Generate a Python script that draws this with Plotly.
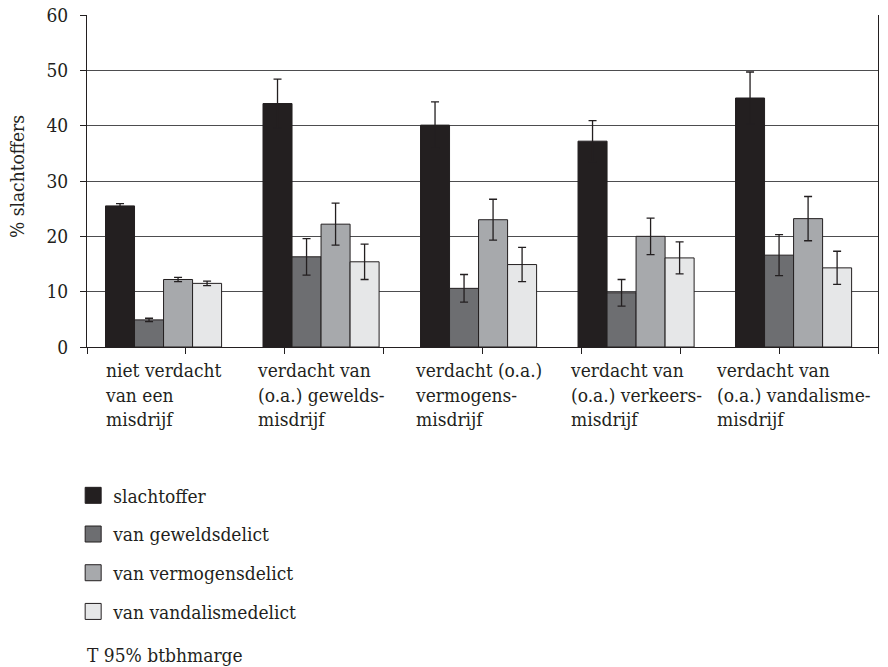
import plotly.graph_objects as go

categories = [
    "niet verdacht<br>van een<br>misdrijf",
    "verdacht van<br>(o.a.) gewelds-<br>misdrijf",
    "verdacht (o.a.)<br>vermogens-<br>misdrijf",
    "verdacht van<br>(o.a.) verkeers-<br>misdrijf",
    "verdacht van<br>(o.a.) vandalisme-<br>misdrijf",
]
series_names = ["slachtoffer", "van geweldsdelict", "van vermogensdelict", "van vandalismedelict"]
slachtoffer = [25.5, 44.0, 40.1, 37.2, 45.0]
slachtoffer_err = [0.4, 4.4, 4.2, 3.7, 4.7]
geweld = [4.9, 16.3, 10.6, 9.8, 16.6]
geweld_err = [0.3, 3.3, 2.5, 2.4, 3.7]
vermogen = [12.2, 22.2, 23.0, 20.0, 23.2]
vermogen_err = [0.4, 3.8, 3.7, 3.3, 4.0]
vandalisme = [11.5, 15.4, 14.9, 16.1, 14.3]
vandalisme_err = [0.4, 3.2, 3.1, 2.9, 3.0]
y_ticks = [0, 10, 20, 30, 40, 50, 60]
note_text = "T 95% btbhmarge"
y_title = "% slachtoffers"

colors = ["#231f20", "#6d6e71", "#a7a9ac", "#e6e7e8"]
FONT = "DejaVu Serif Condensed, DejaVu Serif, serif"
TXT = "#231f20"
FS = 19

xpos = [i + 0.5 for i in range(len(categories))]
values = [slachtoffer, geweld, vermogen, vandalisme]
errors = [slachtoffer_err, geweld_err, vermogen_err, vandalisme_err]

fig = go.Figure()
for name, vals, errs, col in zip(series_names, values, errors, colors):
    fig.add_trace(go.Bar(
        x=xpos, y=vals, name=name, legendgroup=name, showlegend=False,
        marker=dict(color=col, line=dict(color="#231f20", width=1)),
        error_y=dict(type="data", array=errs, visible=True, color="#231f20",
                     thickness=1.3, width=4),
    ))
# legend entries with larger square swatches
for name, col in zip(series_names, colors):
    fig.add_trace(go.Scatter(
        x=[None], y=[None], mode="markers", name=name, legendgroup=name,
        marker=dict(symbol="square", size=16, color=col,
                    line=dict(color="#231f20", width=1)),
    ))

n = len(categories)
r0, r1 = 0.014, 5.036
fig.update_layout(
    width=888, height=667,
    margin=dict(l=87, r=10, t=15, b=320),
    paper_bgcolor="white", plot_bgcolor="white",
    barmode="group", bargap=0.263, bargroupgap=0,
    font=dict(family=FONT, size=FS, color=TXT),
    showlegend=True,
    legend=dict(orientation="v", x=-0.0175, xanchor="left", y=-0.39, yanchor="top",
                traceorder="grouped", tracegroupgap=11, itemsizing="trace",
                font=dict(family=FONT, size=FS, color=TXT),
                bgcolor="rgba(0,0,0,0)"),
    xaxis=dict(range=[r0, r1], showgrid=False, zeroline=False, automargin=False,
               showline=True, linecolor="#231f20", linewidth=1,
               ticks="outside", ticklen=6, tickcolor="#231f20",
               tickvals=[r0 + k * (r1 - r0) / 8 for k in range(9)], showticklabels=False),
    yaxis=dict(range=[0, 60], tickvals=y_ticks, showgrid=True, gridcolor="#4d4d4f",
               gridwidth=1.2, zeroline=False, showline=True, linecolor="#231f20",
               linewidth=1, mirror=True, ticks="outside", ticklen=6, tickcolor="#231f20",
               ticklabelstandoff=8, automargin=False, ticklabeloverflow="allow",
               tickfont=dict(family=FONT, size=FS, color=TXT)),
)

fig.add_annotation(x=-0.0885, y=0.515, xref="paper", yref="paper", text=y_title,
                   textangle=-90, showarrow=False, xanchor="center", yanchor="middle",
                   font=dict(family=FONT, size=FS, color=TXT))

for x, lab in zip(xpos, categories):
    fig.add_annotation(x=x, y=0, xref="x", yref="paper", text=lab, showarrow=False,
                       xanchor="center", yanchor="top", align="left", yshift=-10,
                       font=dict(family=FONT, size=FS, color=TXT))

fig.add_annotation(x=-0.002, y=-0.928, xref="paper", yref="paper", text=note_text,
                   showarrow=False, xanchor="left", yanchor="middle",
                   font=dict(family=FONT, size=FS, color=TXT))

fig.write_html("out.html", config={"displayModeBar": False},
               post_script="document.body.style.margin='0';")
